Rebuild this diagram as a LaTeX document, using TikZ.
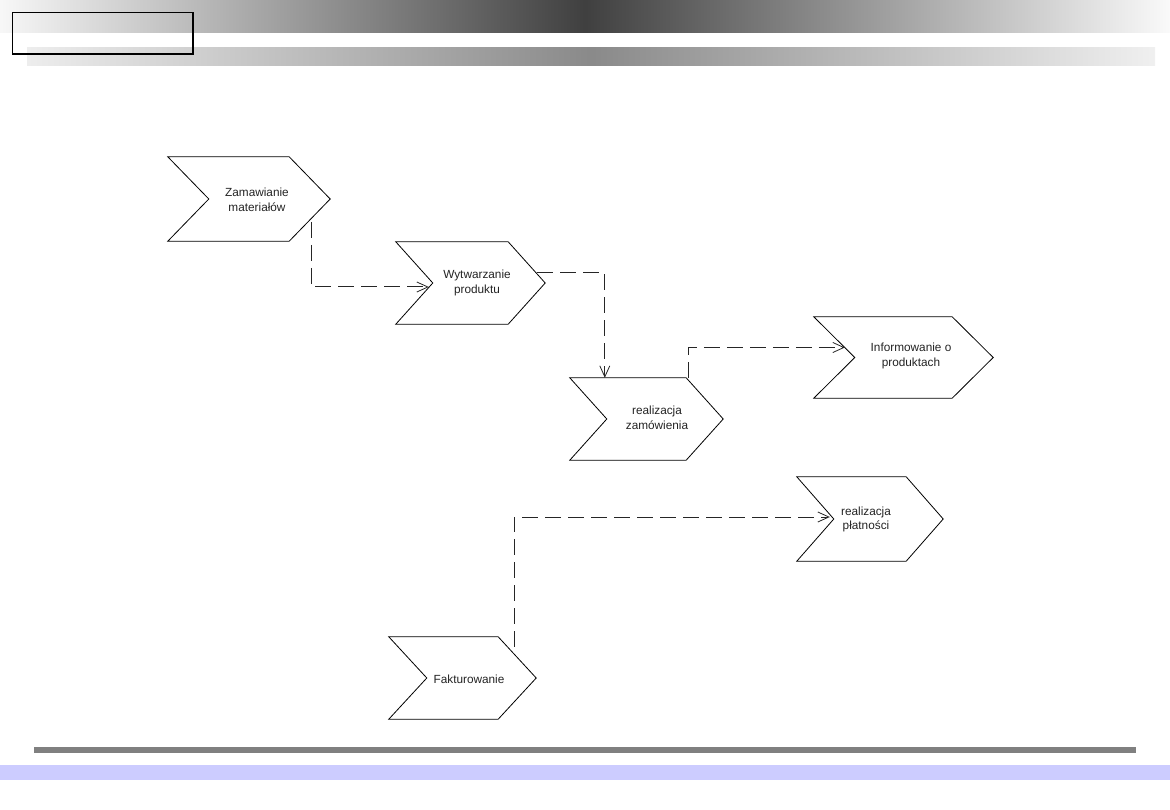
\documentclass[tikz,border=0pt]{standalone}
\usepackage{fontspec}
\setmainfont{Liberation Sans}
\usetikzlibrary{arrows.meta,calc}
\definecolor{lav}{RGB}{204,204,255}
\definecolor{txt}{RGB}{35,35,35}
\begin{document}
\begin{tikzpicture}[x=1pt,y=-1pt,
  cbox/.style={shape=rectangle, inner sep=0pt},
  chevline/.style={draw=black, line width=0.8pt, line join=miter},
  lbl/.style={align=center, inner sep=0pt, text=txt, font=\fontsize{11.8}{14.5}\selectfont},
  conn/.style={draw=black!85, line width=1pt, dash pattern=on 16pt off 7pt,
    -{Straight Barb[length=11pt,width=10pt,line width=0.8pt]}}]
\useasboundingbox (0,0) rectangle (1170,810);
% header bars
\shade[left color=black!3, right color=black!2, middle color=black!75] (0,0) rectangle (1170,33);
\shade[left color=black!7, right color=black!6, middle color=black!46] (27,48) rectangle (1155,66);
\draw[line width=1.5pt] (12.5,12.5) rectangle (193,54);
% footer bars
\fill[black!50] (34,747) rectangle (1136,753);
\fill[lav] (0,765) rectangle (1170,780);
% chevron boxes
\node[cbox, minimum width=162pt, minimum height=84pt] (zam) at (249,199) {};
\node[cbox, minimum width=149pt, minimum height=82pt] (wyt) at (470.5,283) {};
\node[cbox, minimum width=153pt, minimum height=82pt] (rzam) at (646.5,419) {};
\node[cbox, minimum width=179pt, minimum height=81pt] (inf) at (903.5,357.5) {};
\node[cbox, minimum width=146pt, minimum height=84pt] (rpl) at (870,519) {};
\node[cbox, minimum width=147pt, minimum height=82pt] (fak) at (462.5,678) {};
\foreach \n/\dd in {zam/41,wyt/37,rzam/37,inf/41,rpl/37,fak/38}
  \draw[chevline] (\n.north west) -- ([xshift=-\dd pt]\n.north east) -- (\n.east)
    -- ([xshift=-\dd pt]\n.south east) -- (\n.south west) -- ([xshift=\dd pt]\n.west) -- cycle;
% labels
\node[lbl] (zamT) at (257,200) {Zamawianie\\materiałów};
\node[lbl] (wytT) at (477,283) {Wytwarzanie\\produktu};
\node[lbl] (rzamT) at (657,418) {realizacja\\zamówienia};
\node[lbl] (infT) at (911,356) {Informowanie o\\produktach};
\node[lbl] (rplT) at (866,519.5) {realizacja\\płatności};
\node[lbl] (fakT) at (469,679) {Fakturowanie};
% connectors
\draw[conn] ($(zam.east)+(-19,23)$) |- ($(wyt.west)+(33,4)$);
\draw[conn] ($(wyt.east)+(-8,-10)$) -| ($(rzam.north west)+(35,0)$);
\draw[conn] ($(rzam.north east)+(-35,0)$) |- ($(inf.west)+(31,-10)$);
\draw[conn] ($(fak.north east)+(-22,10)$) |- ($(rpl.west)+(33,-2)$);
\end{tikzpicture}
\end{document}
